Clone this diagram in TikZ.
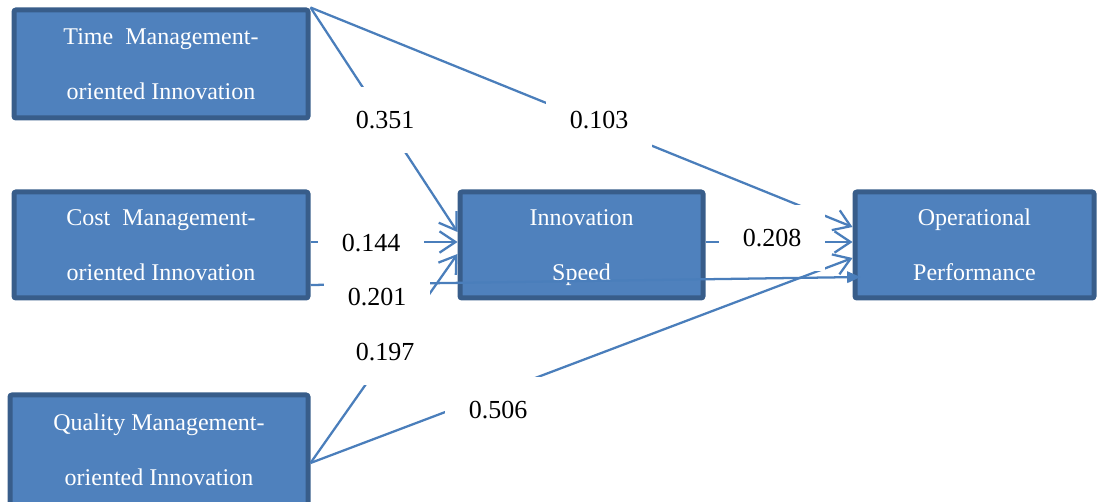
\documentclass[tikz,border=0pt]{standalone}
\usepackage{fontspec}
\setmainfont{Liberation Serif}
\usetikzlibrary{arrows.meta,calc}
\definecolor{boxfill}{HTML}{4F81BD}
\definecolor{boxline}{HTML}{385D8A}
\definecolor{connc}{HTML}{4A7EBB}
\begin{document}
\begin{tikzpicture}[x=0.75pt,y=-0.75pt,
  box/.style={draw=boxline, fill=boxfill, line width=3.75pt, rounded corners=1.5pt,
    text=white, align=center, font=\fontsize{18}{41.25}\selectfont, inner sep=0pt},
  conn/.style={draw=connc, line width=1.7pt,
    -{Straight Barb[length=12pt,width=16pt]}},
  connfill/.style={draw=connc, line width=1.7pt,
    -{Triangle[length=10pt,width=8.5pt]}},
  lab/.style={fill=white, font=\fontsize{19.5}{23}\selectfont,
    minimum width=80pt, minimum height=49pt, inner sep=0pt}
]
\useasboundingbox (0,0) rectangle (1097,502);

% boxes
\node[box, minimum width=220.5pt, minimum height=81pt] (Time) at (161,64)
  {Time\ \ Management-\\oriented Innovation};
\node[box, minimum width=220.5pt, minimum height=79.5pt] (Cost) at (161,245)
  {Cost\ \ Management-\\oriented Innovation};
\node[box, minimum width=223.5pt, minimum height=82.5pt] (Quality) at (159,450)
  {Quality Management-\\oriented Innovation};
\node[box, minimum width=182.25pt, minimum height=79.5pt] (Speed) at (581.5,245)
  {Innovation\\\smash{Speed}};
\node[box, minimum width=179.25pt, minimum height=79.5pt] (Perf) at (974.5,245)
  {Operational\\Performance};

% connectors
\draw[conn] (Time.north east) -- ($(Speed.west)+(0,-13)$);
\draw[conn] (Time.north east) -- ($(Perf.west)+(0,-18)$);
\draw[conn] ($(Cost.east)+(0,-3)$) -- ($(Speed.west)+(0,-3)$);
\draw[connfill] ($(Cost.east)+(0,40)$) -- ($(Perf.west)+(8,32)$);
\draw[conn] ($(Quality.east)+(0,13)$) -- ($(Speed.west)+(0,9)$);
\draw[conn] ($(Quality.east)+(0,13)$) -- ($(Perf.west)+(0,13)$);
\draw[conn] ($(Speed.east)+(0,-3)$) -- ($(Perf.west)+(0,-3)$);

% labels
\node[lab] (l351) at (385,120) {0.351};
\node[lab] (l103) at (599,120) {0.103};
\node[lab] (l144) at (371,243) {0.144};
\node[lab] (l208) at (772,238) {0.208};
\node[lab] (l201) at (377,297) {0.201};
\node[lab] (l197) at (385,352) {0.197};
\node[lab] (l506) at (498,410) {0.506};
\end{tikzpicture}
\end{document}
